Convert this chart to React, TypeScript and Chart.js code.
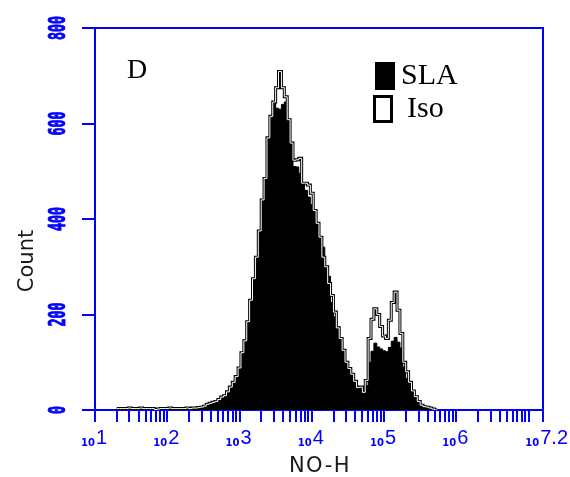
import React, { useEffect, useRef } from "react";
import { Chart, registerables } from "chart.js";

Chart.register(...registerables);

// Histogram bins on a log10 axis (bin start = BIN_START + i * BIN_WIDTH)
const BIN_START = 1.3;
const BIN_WIDTH = 0.04;

const slaCounts = [
  3, 3, 3, 3, 4, 3, 3, 3, 4, 3, 3, 3, 3, 1, 2,
  3, 3, 3, 4, 3, 3, 3, 3, 3, 4, 3, 4, 4, 5, 6,
  8, 12, 14, 16, 18, 22, 27, 30, 38, 48,
  58, 70, 88, 120, 145, 185, 230, 275, 320, 375,
  440, 485, 570, 615, 645, 632, 630, 640, 645, 608,
  559, 510, 509, 496, 475, 460, 446, 430, 418, 391,
  362, 341, 300, 280, 225, 195, 172, 150, 125, 100,
  87, 75, 60, 47, 45, 37, 51, 100, 123, 140,
  132, 128, 124, 122, 131, 144, 152, 142, 130, 90,
  66, 55, 40, 28, 18, 10, 7, 6, 4, 2, 0,
];

const isoCounts = [
  3, 3, 3, 3, 4, 3, 3, 3, 4, 3, 3, 3, 3, 1, 2,
  3, 3, 3, 4, 3, 3, 3, 3, 3, 4, 3, 4, 4, 5, 6,
  8, 12, 14, 16, 18, 22, 27, 30, 38, 48,
  58, 70, 88, 120, 145, 185, 230, 275, 320, 375,
  440, 485, 570, 615, 645, 675, 709, 675, 656, 608,
  559, 523, 524, 527, 475, 475, 471, 454, 418, 391,
  362, 320, 300, 265, 240, 205, 172, 150, 125, 100,
  87, 75, 60, 47, 48, 37, 62, 150, 190, 212,
  200, 175, 155, 150, 188, 225, 247, 209, 160, 100,
  80, 58, 40, 28, 18, 10, 7, 6, 4, 2, 0,
];

const yTickValues = [0, 200, 400, 600, 800];
const xMajorExps = [1, 2, 3, 4, 5, 6, 7.2];
const xExpLabels = ["1", "2", "3", "4", "5", "6", "7.2"];
const X_MIN = 1;
const X_MAX = 7.2;
const legendLabels = ["SLA", "Iso"];
const panelLabel = "D";
const xTitle = "NO-H";
const yTitle = "Count";

const BLUE = "#0000ff";

function toPoints(counts: number[]) {
  const pts = counts.map((c, i) => ({ x: BIN_START + i * BIN_WIDTH, y: c }));
  pts.push({ x: BIN_START + counts.length * BIN_WIDTH, y: 0 });
  return pts;
}

function xTickList() {
  const vals: number[] = [];
  for (let n = 1; n <= 7; n++) {
    for (let k = 1; k <= 9; k++) {
      const v = n + Math.log10(k);
      if (v < X_MAX - 1e-6) vals.push(v);
    }
  }
  vals.push(X_MAX);
  return vals;
}

const decorPlugin = {
  id: "decor",
  afterDraw(chart: any) {
    const ctx = chart.ctx;
    const a = chart.chartArea;
    const xs = chart.scales.x;
    const ys = chart.scales.y;
    ctx.save();
    // frame top & right
    ctx.strokeStyle = BLUE;
    ctx.lineWidth = 2;
    ctx.beginPath();
    ctx.moveTo(a.left, a.top);
    ctx.lineTo(a.right, a.top);
    ctx.lineTo(a.right, a.bottom);
    ctx.stroke();

    // y tick labels (rotated, tall mono digits)
    ctx.fillStyle = BLUE;
    ctx.strokeStyle = BLUE;
    ctx.font = 'bold 14px "DejaVu Sans Mono"';
    ctx.textAlign = "center";
    ctx.textBaseline = "middle";
    yTickValues.forEach((v) => {
      const py = ys.getPixelForValue(v);
      ctx.save();
      ctx.translate(59, py);
      ctx.rotate(-Math.PI / 2);
      ctx.scale(0.95, 1.6);
      ctx.lineWidth = 0.6;
      ctx.fillText(String(v), 0, 0);
      ctx.strokeText(String(v), 0, 0);
      ctx.restore();
    });

    // x tick labels: small "10" + exponent
    xMajorExps.forEach((e, i) => {
      const px = xs.getPixelForValue(e);
      const exp = xExpLabels[i];
      ctx.font = '20px "Liberation Sans"';
      const expW = ctx.measureText(exp).width;
      let baseRight = px;
      let expLeft = px + 1;
      if (expLeft + expW > 568) {
        const shift = expLeft + expW - 568;
        baseRight -= shift;
        expLeft -= shift;
      }
      ctx.textBaseline = "alphabetic";
      ctx.textAlign = "right";
      ctx.font = 'bold 10px "DejaVu Sans"';
      ctx.fillText("10", baseRight, 446);
      ctx.textAlign = "left";
      ctx.font = '20px "Liberation Sans"';
      ctx.fillText(exp, expLeft, 444);
    });

    // axis titles
    ctx.fillStyle = "#1a1a1a";
    ctx.textAlign = "center";
    ctx.textBaseline = "alphabetic";
    ctx.font = '21px "DejaVu Sans"';
    (ctx as any).letterSpacing = "1.5px";
    ctx.fillText(xTitle, (a.left + a.right) / 2 + 1, 472);
    (ctx as any).letterSpacing = "0px";
    ctx.save();
    ctx.translate(33, 261);
    ctx.rotate(-Math.PI / 2);
    ctx.font = '21px "DejaVu Sans"';
    ctx.fillText(yTitle, 0, 0);
    ctx.restore();

    // panel label
    ctx.fillStyle = "#000";
    ctx.textAlign = "left";
    ctx.font = '28px "Liberation Serif"';
    ctx.fillText(panelLabel, 127, 78);

    // legend
    ctx.fillStyle = "#000";
    ctx.fillRect(375, 62, 20, 28);
    ctx.strokeStyle = "#000";
    ctx.lineWidth = 3;
    ctx.strokeRect(374.5, 96.5, 17, 25);
    ctx.font = '30px "Liberation Serif"';
    ctx.fillText(legendLabels[0], 401, 84);
    ctx.fillText(legendLabels[1], 407, 117);
    ctx.restore();
  },
};

export default function App() {
  const ref = useRef<HTMLCanvasElement | null>(null);
  useEffect(() => {
    if (!ref.current) return;
    const xTicks = xTickList();
    const chart = new Chart(ref.current, {
      type: "line",
      data: {
        datasets: [
          {
            label: "Iso-inner",
            data: toPoints(isoCounts),
            borderColor: "#ffffff",
            borderWidth: 1,
            stepped: "before",
            pointRadius: 0,
            fill: false,
            order: 1,
          },
          {
            label: "Iso",
            data: toPoints(isoCounts),
            borderColor: "#000000",
            borderWidth: 3,
            stepped: "before",
            pointRadius: 0,
            fill: false,
            order: 2,
          },
          {
            label: "SLA",
            data: toPoints(slaCounts),
            borderColor: "#000000",
            backgroundColor: "#000000",
            borderWidth: 1,
            stepped: "before",
            pointRadius: 0,
            fill: "origin",
            order: 3,
          },
        ],
      },
      options: {
        animation: false,
        responsive: true,
        maintainAspectRatio: false,
        layout: { padding: { left: 0, top: 28, right: 27, bottom: 0 } },
        plugins: { legend: { display: false }, tooltip: { enabled: false } },
        scales: {
          x: {
            type: "linear",
            min: X_MIN,
            max: X_MAX,
            afterBuildTicks: (scale: any) => {
              scale.ticks = xTicks.map((v) => ({ value: v }));
            },
            afterFit: (scale: any) => {
              scale.height = 67;
            },
            ticks: { display: false, autoSkip: false },
            grid: {
              drawOnChartArea: false,
              drawTicks: true,
              tickLength: 12,
              color: BLUE,
              lineWidth: 2,
            },
            border: { color: BLUE, width: 2 },
          },
          y: {
            min: 0,
            max: 800,
            afterBuildTicks: (scale: any) => {
              scale.ticks = yTickValues.map((v) => ({ value: v }));
            },
            afterFit: (scale: any) => {
              scale.width = 95;
            },
            ticks: { display: false },
            grid: {
              drawOnChartArea: false,
              drawTicks: true,
              tickLength: 13,
              color: BLUE,
              lineWidth: 2,
            },
            border: { color: BLUE, width: 2 },
          },
        },
      },
      plugins: [decorPlugin],
    });
    return () => chart.destroy();
  }, []);
  return (
    <div style={{ position: "absolute", left: 0, top: 0, width: 570, height: 477, background: "#fff" }}>
      <canvas ref={ref} style={{ width: 570, height: 477 }} />
    </div>
  );
}
